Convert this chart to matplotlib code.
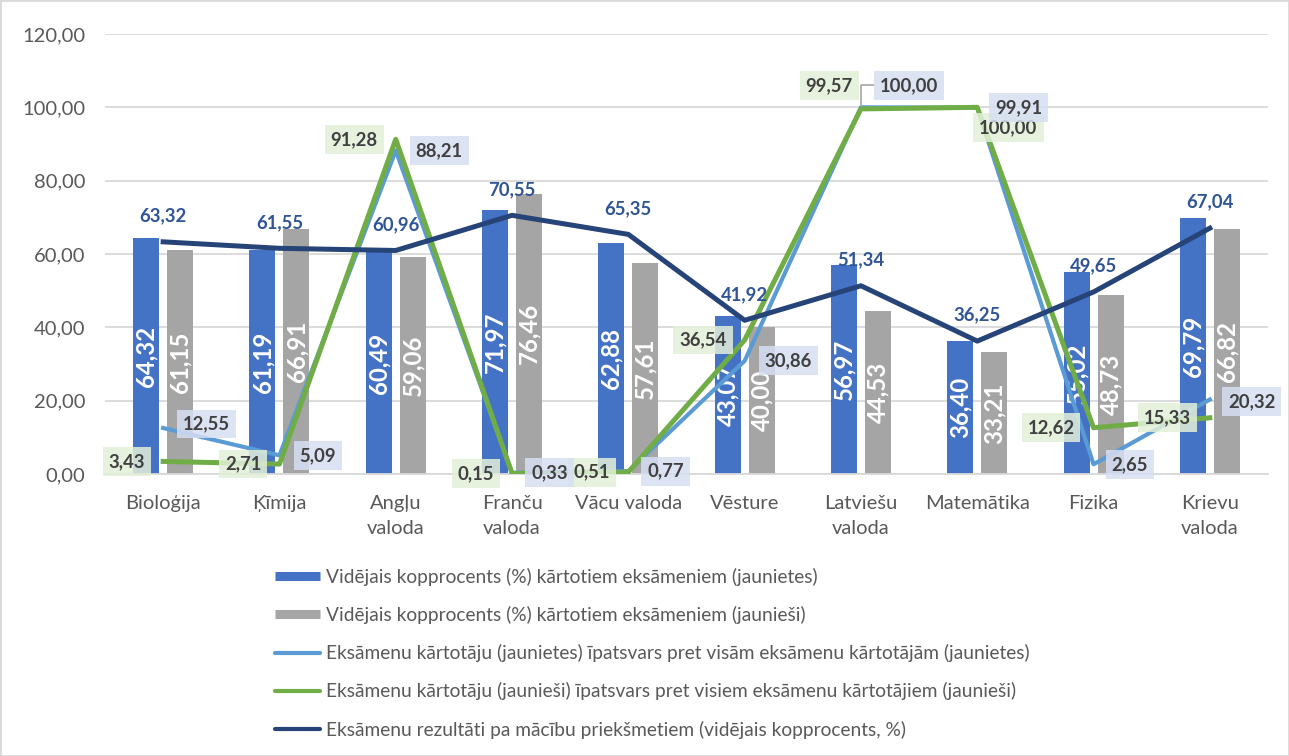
import matplotlib
matplotlib.use('Agg')
import matplotlib.pyplot as plt
from matplotlib.lines import Line2D
from matplotlib.patches import Rectangle
import numpy as np

plt.rcParams['font.family'] = ['Lato', 'DejaVu Sans']

categories = ["Bioloģija", "Ķīmija", "Angļu\nvaloda", "Franču\nvaloda", "Vācu valoda",
              "Vēsture", "Latviešu\nvaloda", "Matemātika", "Fizika", "Krievu\nvaloda"]
score_girls = [64.32, 61.19, 60.49, 71.97, 62.88, 43.07, 56.97, 36.40, 55.02, 69.79]
score_boys = [61.15, 66.91, 59.06, 76.46, 57.61, 40.00, 44.53, 33.21, 48.73, 66.82]
share_girls = [12.55, 5.09, 88.21, 0.33, 0.77, 30.86, 100.00, 99.91, 2.65, 20.32]
share_boys = [3.43, 2.71, 91.28, 0.15, 0.51, 36.54, 99.57, 100.00, 12.62, 15.33]
overall = [63.32, 61.55, 60.96, 70.55, 65.35, 41.92, 51.34, 36.25, 49.65, 67.04]
y_ticks = [0, 20, 40, 60, 80, 100, 120]
series_names = [
    "Vidējais kopprocents (%) kārtotiem eksāmeniem (jaunietes)",
    "Vidējais kopprocents (%) kārtotiem eksāmeniem (jaunieši)",
    "Eksāmenu kārtotāju (jaunietes) īpatsvars pret visām eksāmenu kārtotājām (jaunietes)",
    "Eksāmenu kārtotāju (jaunieši) īpatsvars pret visiem eksāmenu kārtotājiem (jaunieši)",
    "Eksāmenu rezultāti pa mācību priekšmetiem (vidējais kopprocents, %)",
]

# label offsets in pixels (dx, dy) relative to the data point
green_off = [(-18, 0), (-18, 0), (-18, 0), (-18, 0), (-18, 0), (-18, 0),
             (-8, 23), (2, -20), (-19, 0), (-19, 0)]
blue_off = [(20, 4), (20, 0), (20, 0), (19, 0), (19, 0), (20, 0),
            (19, 22), (18, 0), (18, 0), (18, -2)]

C_BLUE = '#4472C4'
C_GRAY = '#A5A5A5'
C_LBLUE = '#5B9BD5'
C_GREEN = '#70AD47'
C_NAVY = '#264478'

W, H = 1289, 756
fig = plt.figure(figsize=(W / 100, H / 100), dpi=100)
ax = fig.add_axes([105 / W, (H - 474) / H, 1163 / W, 440 / H])

def fmt(v):
    return f"{v:.2f}".replace('.', ',')

x = np.arange(len(categories))
bw = 0.224
off = 0.146
ax.bar(x - off, score_girls, bw, color=C_BLUE, zorder=2)
ax.bar(x + off, score_boys, bw, color=C_GRAY, zorder=2)

for xi, v in zip(x, score_girls):
    ax.text(xi - off, v / 2, fmt(v), rotation=90, ha='center', va='center',
            color='white', fontweight='bold', fontsize=17.3, zorder=2.5)
for xi, v in zip(x, score_boys):
    ax.text(xi + off, v / 2, fmt(v), rotation=90, ha='center', va='center',
            color='white', fontweight='bold', fontsize=17.3, zorder=2.5)

ax.plot(x, share_girls, color=C_LBLUE, lw=3.0, zorder=3)
ax.plot(x, share_boys, color=C_GREEN, lw=3.6, zorder=4)
ax.plot(x, overall, color=C_NAVY, lw=3.6, zorder=5)

box_kw = dict(boxstyle='square,pad=0.32', ec='none')
for i, (xi, v) in enumerate(zip(x, share_boys)):
    dx, dy = green_off[i]
    ax.annotate(fmt(v), (xi, v), xytext=(dx, dy), textcoords='offset pixels',
                ha='right' if dx < 0 else 'left', va='center',
                fontsize=13.3, fontweight='bold', color='#404040', zorder=7,
                bbox=dict(fc='#E2F0D9', alpha=0.85, **box_kw), annotation_clip=False)
for i, (xi, v) in enumerate(zip(x, share_girls)):
    dx, dy = blue_off[i]
    kw = {}
    if i == 6:
        kw = dict(arrowprops=dict(arrowstyle='-', color='#A6A6A6', lw=1.2,
                                  shrinkA=0, shrinkB=2,
                                  connectionstyle='angle,angleA=0,angleB=90,rad=0'))
    ax.annotate(fmt(v), (xi, v), xytext=(dx, dy), textcoords='offset pixels',
                ha='left', va='center',
                fontsize=13.3, fontweight='bold', color='#404040', zorder=7,
                bbox=dict(fc='#D6DEF2', alpha=0.85, **box_kw), annotation_clip=False, **kw)
for xi, v in zip(x, overall):
    ax.annotate(fmt(v), (xi, v), xytext=(0, 26), textcoords='offset pixels',
                ha='center', va='center', fontsize=13.3, fontweight='bold',
                color='#2F5597', zorder=7)

ax.set_xlim(-0.5, len(categories) - 0.5)
ax.set_ylim(0, 120)
ax.set_yticks(y_ticks)
ax.set_yticklabels([fmt(t) for t in y_ticks])
ax.set_xticks(x)
ax.set_xticklabels(categories, linespacing=1.55)
ax.grid(axis='y', color='#D9D9D9', lw=1.3, zorder=0)
ax.set_axisbelow(True)
for s in ['top', 'right', 'left']:
    ax.spines[s].set_visible(False)
ax.spines['bottom'].set_color('#D9D9D9')
ax.spines['bottom'].set_linewidth(1.3)
ax.tick_params(axis='both', length=0, colors='#595959', labelsize=14.5)
ax.tick_params(axis='y', pad=14)
ax.tick_params(axis='x', pad=15)

handles = [
    Line2D([], [], color=C_BLUE, lw=6.5, solid_capstyle='butt'),
    Line2D([], [], color=C_GRAY, lw=6.5, solid_capstyle='butt'),
    Line2D([], [], color=C_LBLUE, lw=3, solid_capstyle='round'),
    Line2D([], [], color=C_GREEN, lw=3, solid_capstyle='round'),
    Line2D([], [], color=C_NAVY, lw=3, solid_capstyle='round'),
]
fig.legend(handles, series_names, loc='upper left',
           bbox_to_anchor=(275 / W, 1 - 568 / H), frameon=False, fontsize=13.75,
           handlelength=2.35, handletextpad=0.3, labelspacing=1.05,
           borderpad=0, borderaxespad=0, labelcolor='#595959')

fig.add_artist(Rectangle((0, 0), 1, 1, transform=fig.transFigure, fill=False,
                         ec='#D9D9D9', lw=2))

fig.savefig('out.png', dpi=100, facecolor='white')
